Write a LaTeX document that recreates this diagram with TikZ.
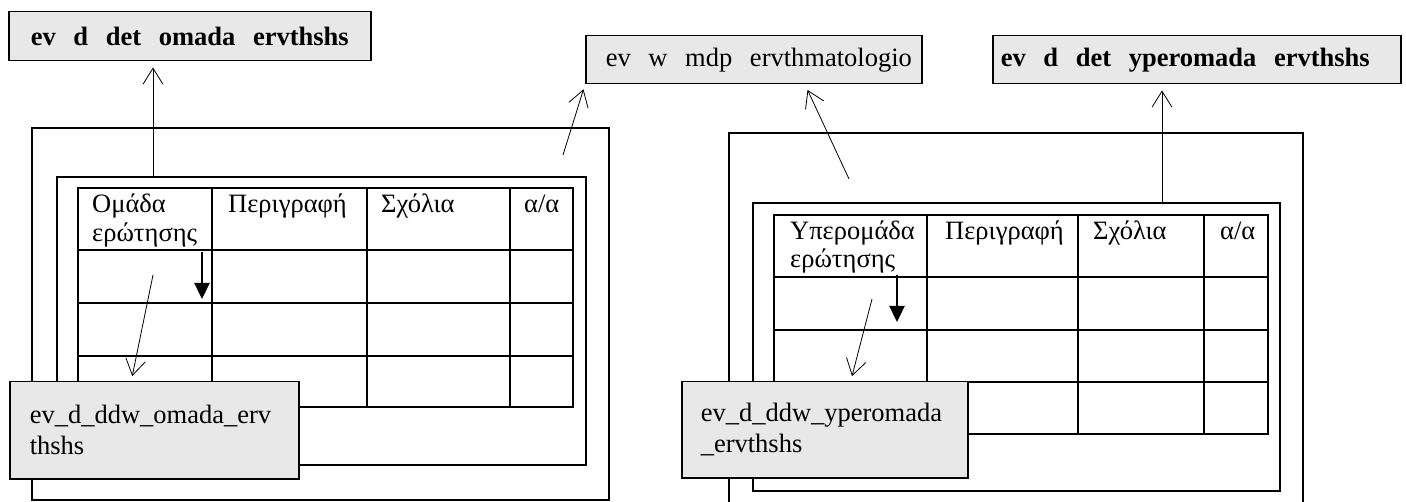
\documentclass[tikz,border=0pt]{standalone}
\usepackage{fontspec}
\setmainfont{Liberation Serif}
\usetikzlibrary{arrows.meta,positioning}
\tikzset{>/.tip={Straight Barb[length=16pt,width=20pt]}}
\tikzset{V/.tip={Triangle[length=16pt,width=15pt]}}
\definecolor{boxgray}{gray}{0.91}
\def\oneline#1#2{\makebox[#1][l]{#2}}

\begin{document}
\begin{tikzpicture}[x=1pt,y=-1pt,font=\fontsize{26.5}{31}\selectfont,
    gbox/.style={draw,line width=1.5pt,fill=boxgray,align=left,anchor=north west,inner ysep=0pt},
    frame/.style={line width=2pt},
    cell/.style={anchor=base west,inner sep=0pt},
    link/.style={->,line width=0.8pt}]
  \useasboundingbox (0,0) rectangle (1406,502);

  % left form
  \draw[frame] (32,128) rectangle (609,500);
  \draw[frame] (57,177) rectangle (586,465);
  \draw[frame] (78,188) rectangle (573,407);
  \foreach \x in {212,367,510} \draw[frame] (\x,188) -- (\x,407);
  \foreach \y in {250,303,356} \draw[frame] (78,\y) -- (573,\y);
  \node[cell] (hOm) at (92,213) {Ομάδα};
  \node[cell] (hEr) at (92,242) {ερώτησης};
  \node[cell] (hPe) at (228,213) {Περιγραφή};
  \node[cell] (hSx) at (381,213) {Σχόλια};
  \node[cell] (hAa) at (524,213) {α/α};

  % right form
  \draw[frame] (729,503) -- (729,133) -- (1303,133) -- (1303,503);
  \draw[frame] (753,203) rectangle (1280,491);
  \draw[frame] (774,215) rectangle (1268,434);
  \foreach \x in {927,1078,1204} \draw[frame] (\x,215) -- (\x,434);
  \foreach \y in {277,330,382} \draw[frame] (774,\y) -- (1268,\y);
  \node[cell] (hYp) at (790,240) {Υπερομάδα};
  \node[cell] (hEr2) at (790,268) {ερώτησης};
  \node[cell] (hPe2) at (945,240) {Περιγραφή};
  \node[cell] (hSx2) at (1093,240) {Σχόλια};
  \node[cell] (hAa2) at (1220,240) {α/α};

  % windows
  \node[gbox,font=\fontsize{26.5}{31}\selectfont\bfseries,minimum width=362pt,minimum height=49pt,
    text width=318pt,inner xsep=22pt] (omada) at (8,11)
    {\oneline{318pt}{ev\ \ d\ \ det\ \ omada\ \ ervthshs}};
  \node[gbox,minimum width=336pt,minimum height=48pt,
    text width=296pt,inner xsep=20pt] (erwt) at (585,35)
    {\oneline{296pt}{ev\ \ w\ \ mdp\ \ ervthmatologio}};
  \node[gbox,font=\fontsize{26.5}{31}\selectfont\bfseries,minimum width=408pt,minimum height=48pt,
    text width=392pt,inner xsep=8pt] (yper) at (992,35)
    {\oneline{392pt}{ev\ \ d\ \ det\ \ yperomada\ \ ervthshs}};
  \node[gbox,minimum width=289pt,minimum height=97pt,
    text width=249pt,inner xsep=20pt] (ddwom) at (9,381)
    {\oneline{249pt}{ev\_d\_ddw\_omada\_erv}\\thshs};
  \node[gbox,minimum width=286pt,minimum height=96pt,
    text width=248pt,inner xsep=19pt] (ddwyp) at (681,381)
    {\oneline{248pt}{ev\_d\_ddw\_yperomada}\\\_ervthshs};

  \coordinate (sA) at (153,177);
  \coordinate (sB1) at (563,155);
  \coordinate (sB2) at (849,179);
  \coordinate (sC) at (1162,203);
  \coordinate (sD) at (153,275);
  \coordinate (sE) at (872,299);
  \coordinate (tL1) at (202,252);
  \coordinate (tL2) at (202,299);
  \coordinate (tR1) at (897,275);
  \coordinate (tR2) at (897,322);

  \draw[link,shorten >=6pt] (sA) -- (sA |- omada.south);
  \draw[link,shorten >=5pt] (sB1) -- (erwt.south west);
  \draw[link,shorten >=6pt] (sB2) -- ([xshift=220pt]erwt.south west);
  \draw[link,shorten >=6pt] (sC) -- (sC |- yper.south);
  \draw[link,shorten >=5pt] (sD) -- ([xshift=-23pt]ddwom.north);
  \draw[link,shorten >=5pt] (sE) -- ([xshift=26pt]ddwyp.north);
  \draw[-V,line width=2.3pt] (tL1) -- (tL2);
  \draw[-V,line width=2.3pt] (tR1) -- (tR2);
\end{tikzpicture}
\end{document}
